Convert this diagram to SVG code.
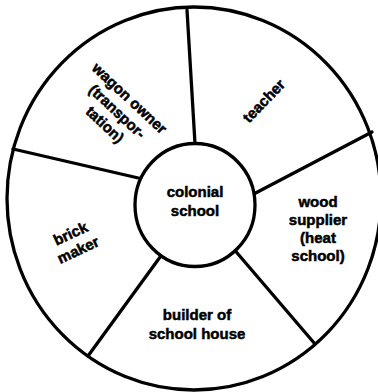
<svg xmlns="http://www.w3.org/2000/svg" width="378" height="392" viewBox="0 0 378 392">
<style>
.ln{stroke:#000;stroke-width:3.3;fill:none;stroke-linecap:round}
.t{font-family:"Liberation Sans",Arial,sans-serif;font-weight:bold;font-size:15px;fill:#000;stroke:#000;stroke-width:0.5;text-anchor:middle}
</style>
<rect width="378" height="392" fill="#fff"/>
<g id="connectors">
<line class="ln" x1="187" y1="10" x2="195.5" y2="152"/>
<line class="ln" x1="13" y1="149" x2="147" y2="180"/>
<line class="ln" x1="372" y1="132" x2="248" y2="197"/>
<line class="ln" x1="315" y1="344" x2="232" y2="247"/>
<line class="ln" x1="88" y1="356" x2="163" y2="253"/>
</g>
<g id="outer-wheel">
<ellipse class="ln" cx="194" cy="198.5" rx="187" ry="191.5"/>
</g>
<g id="colonial-school">
<ellipse cx="195" cy="205" rx="60" ry="61.5" fill="#fff" stroke="#000" stroke-width="3.3"/>
<text class="t" x="195" y="196.5">colonial</text>
<text class="t" x="195" y="215.5">school</text>
</g>
<g id="wagon-owner">
<g transform="translate(126,102) rotate(43)">
<text class="t" x="0" y="0">wagon owner</text>
<text class="t" x="0" y="18">(transpor-</text>
<text class="t" x="0" y="36">tation)</text>
</g>
</g>
<g id="teacher">
<text class="t" transform="translate(264,101) rotate(-46)" x="0" y="5">teacher</text>
</g>
<g id="wood-supplier">
<text class="t" x="318" y="207">wood</text>
<text class="t" x="318" y="225">supplier</text>
<text class="t" x="318" y="243">(heat</text>
<text class="t" x="318" y="261">school)</text>
</g>
<g id="builder">
<text class="t" x="197" y="320">builder of</text>
<text class="t" x="197" y="339">school house</text>
</g>
<g id="brick-maker">
<g transform="translate(74,241) rotate(-25)">
<text class="t" x="0" y="-3">brick</text>
<text class="t" x="0" y="15">maker</text>
</g>
</g>
</svg>
